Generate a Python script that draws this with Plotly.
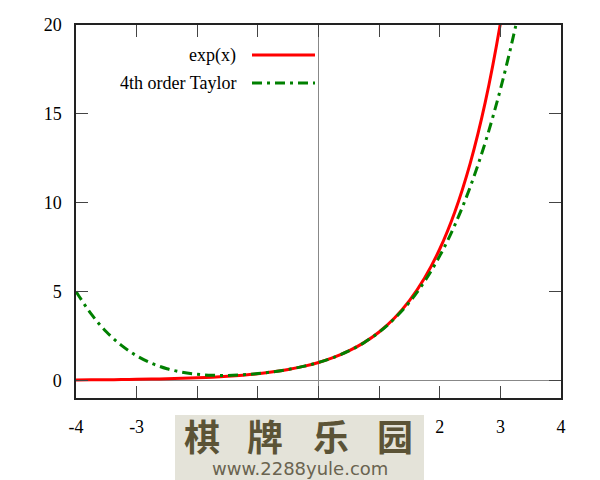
import plotly.graph_objects as go

# ---- data ----
x_vals = [-4.0, -3.75, -3.5, -3.25, -3.0, -2.75, -2.5, -2.25, -2.0, -1.75, -1.5, -1.25,
          -1.0, -0.75, -0.5, -0.25, 0.0, 0.25, 0.5, 0.75, 1.0, 1.25, 1.5, 1.75,
          2.0, 2.25, 2.5, 2.75, 3.0, 3.25, 3.5]
exp_vals = [0.018, 0.024, 0.030, 0.039, 0.050, 0.064, 0.082, 0.105, 0.135, 0.174, 0.223, 0.287,
            0.368, 0.472, 0.607, 0.779, 1.000, 1.284, 1.649, 2.117, 2.718, 3.490, 4.482, 5.755,
            7.389, 9.488, 12.18, 15.64, 20.09, 25.79, 33.12]
taylor_vals = [5.000, 3.732, 2.732, 1.959, 1.375, 0.948, 0.648, 0.451, 0.333, 0.279, 0.273, 0.308,
               0.375, 0.474, 0.607, 0.779, 1.000, 1.284, 1.648, 2.115, 2.708, 3.459, 4.398, 5.565,
               7.000, 8.748, 10.857, 13.380, 16.375, 19.901, 24.023]
series_names = ["exp(x)", "4th order Taylor"]
x_ticks = [-4, -3, -2, -1, 0, 1, 2, 3, 4]
y_ticks = [0, 5, 10, 15, 20]
watermark_chars = ["棋", "牌", "乐", "园"]
watermark_url = "www.2288yule.com"

W, H = 600, 480
L, R, T, B = 76, 39, 25, 82
PW, PH = W - L - R, H - T - B


def px(x):
    return (x - L) / PW


def py(y):
    return (H - B - y) / PH


SERIF = "Liberation Serif"
RED = "#ff0000"
GREEN = "#008000"
DASHDOT = "10px,5px,3px,5px"

fig = go.Figure()
fig.add_trace(go.Scatter(x=x_vals, y=exp_vals, mode="lines", name=series_names[0],
                         line=dict(color=RED, width=3, shape="spline"), showlegend=False))
fig.add_trace(go.Scatter(x=x_vals, y=taylor_vals, mode="lines", name=series_names[1],
                         line=dict(color=GREEN, width=3, shape="spline", dash=DASHDOT),
                         showlegend=False))

axis_common = dict(
    showgrid=False, ticks="inside", ticklen=12, tickcolor="#444", tickwidth=1,
    showline=True, linecolor="#222", linewidth=1.5, mirror="ticks",
    zeroline=True, zerolinecolor="#888", zerolinewidth=1,
    tickfont=dict(family=SERIF, size=18, color="black"),
)
fig.update_xaxes(range=[-4, 4], tickvals=x_ticks, ticktext=[str(v) for v in x_ticks],
                 ticklabelstandoff=12, **axis_common)
fig.update_yaxes(range=[-1, 20], tickvals=y_ticks, ticktext=[str(v) for v in y_ticks],
                 ticklabelstandoff=9, **axis_common)

shapes = []
annotations = []
# manual legend (text right-aligned, sample line to its right)
legend_rows = [(series_names[0], RED, "solid", 55), (series_names[1], GREEN, DASHDOT, 83)]
for name, col, dash, yy in legend_rows:
    annotations.append(dict(xref="paper", yref="paper", x=px(238), y=py(yy), text=name,
                            showarrow=False, xanchor="right", yanchor="middle",
                            font=dict(family=SERIF, size=18, color="black")))
    shapes.append(dict(type="line", xref="paper", yref="paper", x0=px(252), x1=px(315),
                       y0=py(yy), y1=py(yy), line=dict(color=col, width=3, dash=dash)))

# watermark overlay
shapes.append(dict(type="rect", xref="paper", yref="paper", x0=px(175), x1=px(424),
                   y0=py(415), y1=py(480), fillcolor="#e4e3d9", line=dict(width=0), layer="above"))
for ch, cx in zip(watermark_chars, [202, 265, 331, 395]):
    annotations.append(dict(xref="paper", yref="paper", x=px(cx), y=py(435), text="<b>" + ch + "</b>",
                            showarrow=False, xanchor="center", yanchor="middle",
                            font=dict(family="Noto Sans CJK SC", size=36, color="#5b5336")))
annotations.append(dict(xref="paper", yref="paper", x=px(300), y=py(469), text=watermark_url,
                        showarrow=False, xanchor="center", yanchor="middle",
                        font=dict(family="DejaVu Sans", size=18, color="#6a6350")))

fig.update_layout(
    width=W, height=H, margin=dict(l=L, r=R, t=T, b=B, pad=0),
    plot_bgcolor="white", paper_bgcolor="white",
    shapes=shapes, annotations=annotations, showlegend=False,
)

fig.write_html("out.html", config={"displayModeBar": False},
               post_script="document.body.style.margin='0';document.body.style.overflow='hidden';")
